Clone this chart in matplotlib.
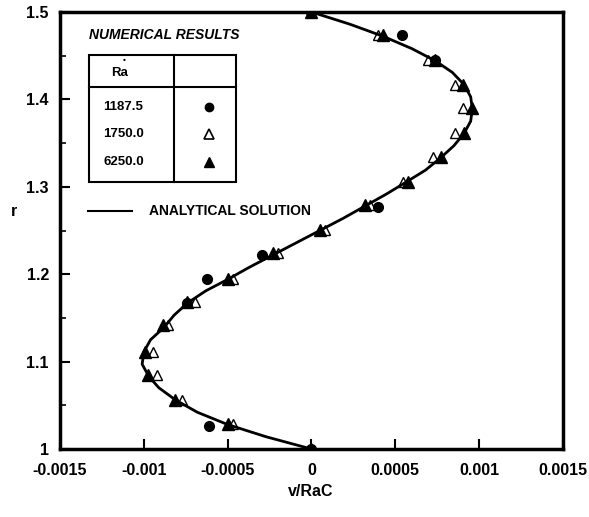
import numpy as np
import matplotlib
matplotlib.use("Agg")
import matplotlib.pyplot as plt
from matplotlib.lines import Line2D
from matplotlib.patches import Rectangle

plt.rcParams['font.family'] = ['Liberation Sans', 'DejaVu Sans']
plt.rcParams['font.weight'] = 'bold'

# analytical solution
curve_r = [1.0, 1.014, 1.028, 1.042, 1.056, 1.070, 1.083, 1.097, 1.111, 1.125,
           1.139, 1.153, 1.167, 1.181, 1.194, 1.208, 1.222, 1.236, 1.250, 1.264,
           1.278, 1.292, 1.306, 1.319, 1.333, 1.347, 1.361, 1.375, 1.389, 1.403,
           1.417, 1.431, 1.444, 1.458, 1.472, 1.486, 1.5]
curve_v = [0.0, -0.00027, -0.00050, -0.00068, -0.00081, -0.00091, -0.00097, -0.00101, -0.00100, -0.00096,
           -0.00088, -0.00082, -0.00074, -0.00063, -0.00050, -0.00037, -0.00023, -0.00009, 0.00005, 0.00019,
           0.00032, 0.00045, 0.00057, 0.00068, 0.00077, 0.00085, 0.00091, 0.00095, 0.00096, 0.00095,
           0.00091, 0.00084, 0.00074, 0.00060, 0.00043, 0.00023, 0.0]

# Ra* = 1187.5 (filled circles)
r_1187 = [1.0, 1.0263, 1.167, 1.194, 1.222, 1.2773, 1.445, 1.4737, 1.5]
v_1187 = [0.0, -0.00061, -0.00074, -0.000625, -0.000297, 0.000398, 0.00074, 0.000538, 0.0]

# Ra* = 1750.0 (open triangles)
r_1750 = [1.0286, 1.0561, 1.0847, 1.1113, 1.1419, 1.1685, 1.194, 1.2239, 1.2506,
          1.2792, 1.3059, 1.3345, 1.3612, 1.3898, 1.4165, 1.445, 1.4737]
v_1750 = [-0.00047, -0.000774, -0.000923, -0.000944, -0.000854, -0.000695, -0.000466, -0.00020, 0.00008,
          0.00035, 0.000548, 0.000727, 0.000856, 0.000906, 0.000856, 0.000695, 0.000398]

# Ra* = 6250.0 (filled triangles)
r_6250 = [1.0, 1.0286, 1.0561, 1.0847, 1.1113, 1.1419, 1.1685, 1.194, 1.2239, 1.2506,
          1.2792, 1.3059, 1.3345, 1.3612, 1.3898, 1.4165, 1.445, 1.4737, 1.5]
v_6250 = [0.0, -0.000496, -0.000814, -0.000973, -0.000993, -0.000884, -0.000744, -0.000496, -0.000228, 0.0000507,
          0.000319, 0.000574, 0.000776, 0.00091, 0.000959, 0.000906, 0.000737, 0.000428, 0.0]

ra_labels = ["1187.5", "1750.0", "6250.0"]

fig = plt.figure(figsize=(5.89, 5.17), dpi=100)
ax = fig.add_axes([0.1019, 0.1315, 0.8537, 0.8453])

ax.plot(v_1750, r_1750, linestyle='none', marker='^', ms=7, mfc='white', mec='black', mew=1.0, zorder=2)
ax.plot(curve_v, curve_r, color='black', lw=2, zorder=3)
ax.plot(v_1187, r_1187, linestyle='none', marker='o', ms=7, color='black', zorder=4)
ax.plot(v_6250, r_6250, linestyle='none', marker='^', ms=8, color='black', zorder=5)

ax.set_xlim(-0.0015, 0.0015)
ax.set_ylim(1.0, 1.5)
ax.set_xticks([-0.0015, -0.001, -0.0005, 0, 0.0005, 0.001, 0.0015])
ax.set_xticklabels(["-0.0015", "-0.001", "-0.0005", "0", "0.0005", "0.001", "0.0015"])
ax.set_yticks([1.0, 1.1, 1.2, 1.3, 1.4, 1.5])
ax.set_yticklabels(["1", "1.1", "1.2", "1.3", "1.4", "1.5"])
ax.set_yticks([1.05, 1.15, 1.25, 1.35, 1.45], minor=True)
ax.tick_params(axis='both', which='major', direction='in', length=7, width=1.5, labelsize=11.5)
ax.tick_params(axis='x', which='major', pad=10)
ax.tick_params(axis='y', which='major', pad=8)
ax.tick_params(axis='y', which='minor', direction='in', length=4, width=1.2)
for sp in ax.spines.values():
    sp.set_linewidth(2.5)

fig.text(311 / 589, 1 - 491 / 517, "v/RaC", fontsize=11.5, fontweight='bold', ha='center', va='center')
fig.text(14 / 589, 1 - 212 / 517, "r", fontsize=11.5, fontweight='bold', ha='center', va='center')

# legend block drawn in axes fraction
T = ax.transAxes
def fx(px):
    return (px - 60) / 503.0
def fy(py):
    return (449 - py) / 437.0

ax.text(fx(89), fy(35), "NUMERICAL RESULTS", transform=T, fontsize=10, fontweight='bold',
        fontstyle='italic', va='center', ha='left')
ax.add_patch(Rectangle((fx(89), fy(181.5)), fx(236) - fx(89), fy(55) - fy(181.5), transform=T,
                       fill=False, lw=1.5, ec='black', zorder=6))
ax.add_line(Line2D([fx(89), fx(236)], [fy(87.5), fy(87.5)], transform=T, color='black', lw=1.5, zorder=6))
ax.add_line(Line2D([fx(174), fx(174)], [fy(55), fy(181.5)], transform=T, color='black', lw=1.5, zorder=6))
ax.text(fx(120), fy(73), "Ra", transform=T, fontsize=9.5, fontweight='bold', ha='center', va='center')
ax.text(fx(124), fy(61), "•", transform=T, fontsize=6, ha='center', va='center')

row_y = [107, 134, 162]
markers = [dict(marker='o', ms=6, color='black'),
           dict(marker='^', ms=7, mfc='white', mec='black', mew=1.2),
           dict(marker='^', ms=7, color='black')]
for lab, py, mk in zip(ra_labels, row_y, markers):
    ax.text(fx(103), fy(py), lab, transform=T, fontsize=9.5, fontweight='bold', ha='left', va='center')
    ax.plot([fx(209)], [fy(py)], transform=T, linestyle='none', clip_on=False, **mk)

ax.add_line(Line2D([fx(88), fx(132)], [fy(211), fy(211)], transform=T, color='black', lw=1.5))
ax.text(fx(149), fy(211), "ANALYTICAL SOLUTION", transform=T, fontsize=10, fontweight='bold',
        ha='left', va='center')

fig.savefig("out.png", dpi=100)
